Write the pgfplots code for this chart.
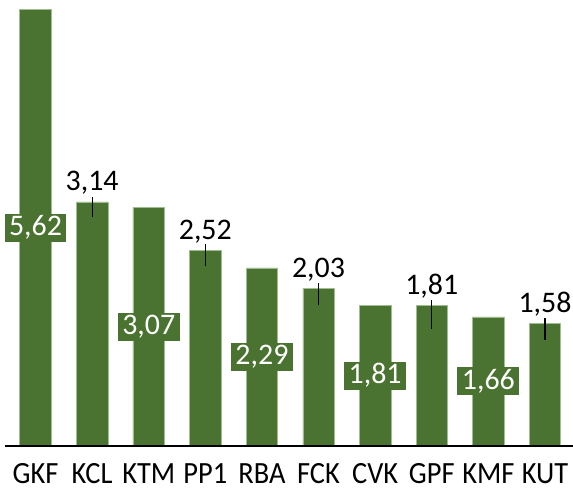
\documentclass[border=0pt]{standalone}
\usepackage{pgfplots}
\usepackage{pgfplotstable}
\pgfplotsset{compat=1.18}
\usepackage{fontspec}
\setmainfont{Carlito}
\newfontfamily\tickfont[FakeStretch=0.92]{Carlito}
\definecolor{bargreen}{RGB}{74,114,48}
\definecolor{baredge}{RGB}{160,188,145}

\pgfplotstableread{
x v
0 5.62
1 3.14
2 3.07
3 2.52
4 2.29
5 2.03
6 1.81
7 1.81
8 1.66
9 1.58
}\bars

\pgfplotstableread{
x v ep em
1 3.14 0.064 0.195
3 2.52 0.075 0.205
5 2.03 0.064 0.215
7 1.81 0.064 0.30
9 1.58 0.064 0.215
}\outside

\pgfplotstableread{
x v
0 5.62
2 3.07
4 2.29
6 1.81
8 1.66
}\inside

\begin{document}
\begin{tikzpicture}
\begin{axis}[
  at={(0,0)}, anchor=south west,
  width=573bp, height=446bp, scale only axis,
  xmin=-0.627, xmax=9.495, ymin=0, ymax=5.736,
  axis x line*=bottom, axis y line=none,
  x axis line style={draw=none},
  xtick={0,...,9},
  xticklabels={GKF,KCL,KTM,PP1,RBA,FCK,CVK,GPF,KMF,KUT},
  ytick=\empty,
  major tick length=0pt,
  xticklabel style={font=\tickfont\fontsize{31}{33}\selectfont, anchor=base, yshift=-37bp, inner sep=0pt},
  /pgf/number format/.cd, use comma, fixed, fixed zerofill, precision=2, assume math mode=true,
  /pgfplots/.cd,
  clip=false,
]
\addplot[ybar, bar width=0.556, fill=bargreen, draw=baredge, line width=0.6pt]
  table[x=x, y=v]{\bars};

\draw[black, line width=1.3pt] (axis cs:-0.53,0) -- (axis cs:9.495,0);

\addplot[draw=none, mark=none, forget plot,
  error bars/.cd, y dir=both, y explicit,
  error mark=none,
  error bar style={draw=black, solid, line width=1.2pt}]
  table[x=x, y=v, y error plus=ep, y error minus=em]{\outside};

\addplot[only marks, mark=none, forget plot,
  nodes near coords, point meta=\thisrow{v},
  every node near coord/.style={anchor=base, yshift=11bp, text=black,
    font=\fontsize{30}{32}\selectfont, inner sep=0pt}]
  table[x=x, y=v]{\outside};

\addplot[only marks, mark=none, forget plot,
  nodes near coords, point meta=\thisrow{v},
  every node near coord/.style={anchor=center, fill=bargreen, text=white,
    font=\fontsize{30}{32}\selectfont, inner xsep=4.5bp, inner ysep=0pt,
    minimum height=28bp}]
  table[x=x, y expr=\thisrow{v}/2]{\inside};
\end{axis}
\pgfresetboundingbox
\useasboundingbox (0,-45bp) rectangle (573bp,446bp);
\end{tikzpicture}
\end{document}
